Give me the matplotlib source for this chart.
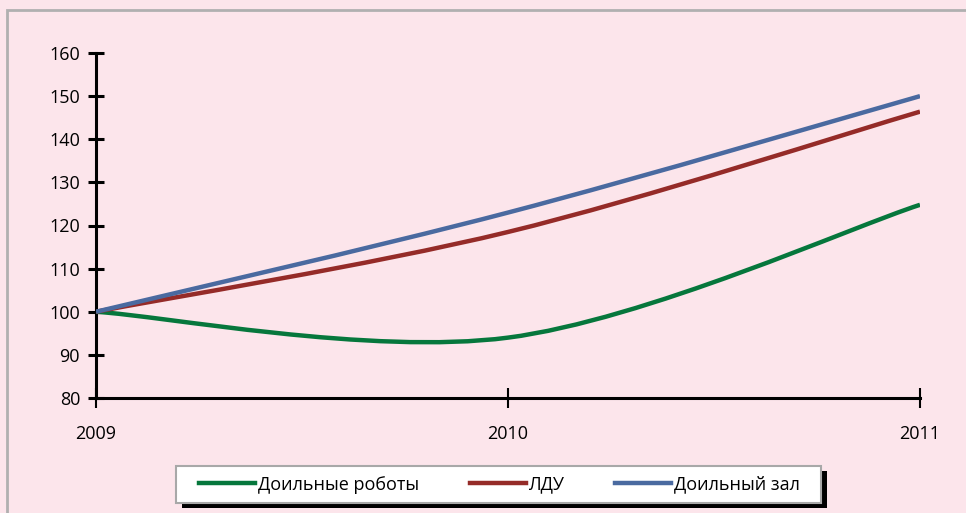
import numpy as np
import matplotlib
matplotlib.use("Agg")
import matplotlib.pyplot as plt
from matplotlib.path import Path
from matplotlib.patches import PathPatch, Rectangle
from matplotlib.lines import Line2D

# === DATA ===
years = [2009, 2010, 2011]
robots = [100, 94, 124.8]      # Доильные роботы
ldu = [100, 118.5, 146.4]      # ЛДУ
parlour = [100, 123, 150]      # Доильный зал
series_names = ["Доильные роботы", "ЛДУ", "Доильный зал"]
series_colors = ["#06773C", "#952B28", "#4A6AA0"]
y_ticks = [80, 90, 100, 110, 120, 130, 140, 150, 160]

plt.rcParams['font.family'] = ['Open Sans', 'DejaVu Sans']
bg = "#FCE5EB"
W, H = 966, 513


def smooth_path(xs, ys):
    # Excel-like smoothed line: cubic bezier through the points
    pts = np.column_stack([xs, ys]).astype(float)
    n = len(pts)
    verts = [pts[0]]
    codes = [Path.MOVETO]
    for i in range(n - 1):
        p0 = pts[i - 1] if i > 0 else pts[i]
        p1 = pts[i]
        p2 = pts[i + 1]
        p3 = pts[i + 2] if i + 2 < n else pts[i + 1]
        c1 = p1 + (p2 - p0) / 6.0
        c2 = p2 - (p3 - p1) / 6.0
        verts += [c1, c2, p2]
        codes += [Path.CURVE4] * 3
    return Path(verts, codes)


fig = plt.figure(figsize=(W / 100, H / 100), dpi=100, facecolor=bg)
ax = fig.add_axes([96 / W, 1 - 398 / H, 824 / W, 345 / H], facecolor=bg)

for vals, col in zip([robots, ldu, parlour], series_colors):
    ax.add_patch(PathPatch(smooth_path(years, vals), fill=False, edgecolor=col,
                           lw=3.2, capstyle='butt', zorder=3))

ax.set_xlim(2009, 2011)
ax.set_ylim(80, 160)
ax.set_xticks(years)
ax.set_xticklabels([str(y) for y in years])
ax.set_yticks(y_ticks)

for s in ['top', 'right']:
    ax.spines[s].set_visible(False)
for s in ['left', 'bottom']:
    ax.spines[s].set_linewidth(2.2)
    ax.spines[s].set_color('black')
    ax.spines[s].set_zorder(2)

ax.tick_params(axis='y', direction='inout', length=11, width=2.2, labelsize=13, pad=6)
ax.tick_params(axis='x', direction='inout', length=15, width=1.5, labelsize=13, pad=12)

# outer frame
fig.patches.append(Rectangle((7 / W, -0.1), 1.2, 1 - 10 / H + 0.1,
                             transform=fig.transFigure, fill=False,
                             edgecolor='#B0B0B0', lw=2))

# legend box with black shadow
bx0, by0, bw, bh = 176, 466, 645, 37
fig.patches.append(Rectangle(((bx0 + 6) / W, 1 - (by0 + bh + 5) / H), bw / W, bh / H,
                             transform=fig.transFigure, facecolor='black',
                             edgecolor='none', zorder=5))
fig.patches.append(Rectangle((bx0 / W, 1 - (by0 + bh) / H), bw / W, bh / H,
                             transform=fig.transFigure, facecolor='white',
                             edgecolor='#A8A8A8', lw=1.5, zorder=6))

handles = [Line2D([], [], color=c, lw=3.2) for c in series_colors]
leg = fig.legend(handles, series_names, loc='center',
                 bbox_to_anchor=((bx0 + bw / 2 + 1) / W, 1 - (by0 + bh / 2) / H),
                 ncol=3, fontsize=13, frameon=False,
                 handlelength=3.1, handletextpad=0.15, columnspacing=2.8,
                 borderpad=0, borderaxespad=0)
leg.set_zorder(7)

fig.savefig("out.png", dpi=100, facecolor=bg)
